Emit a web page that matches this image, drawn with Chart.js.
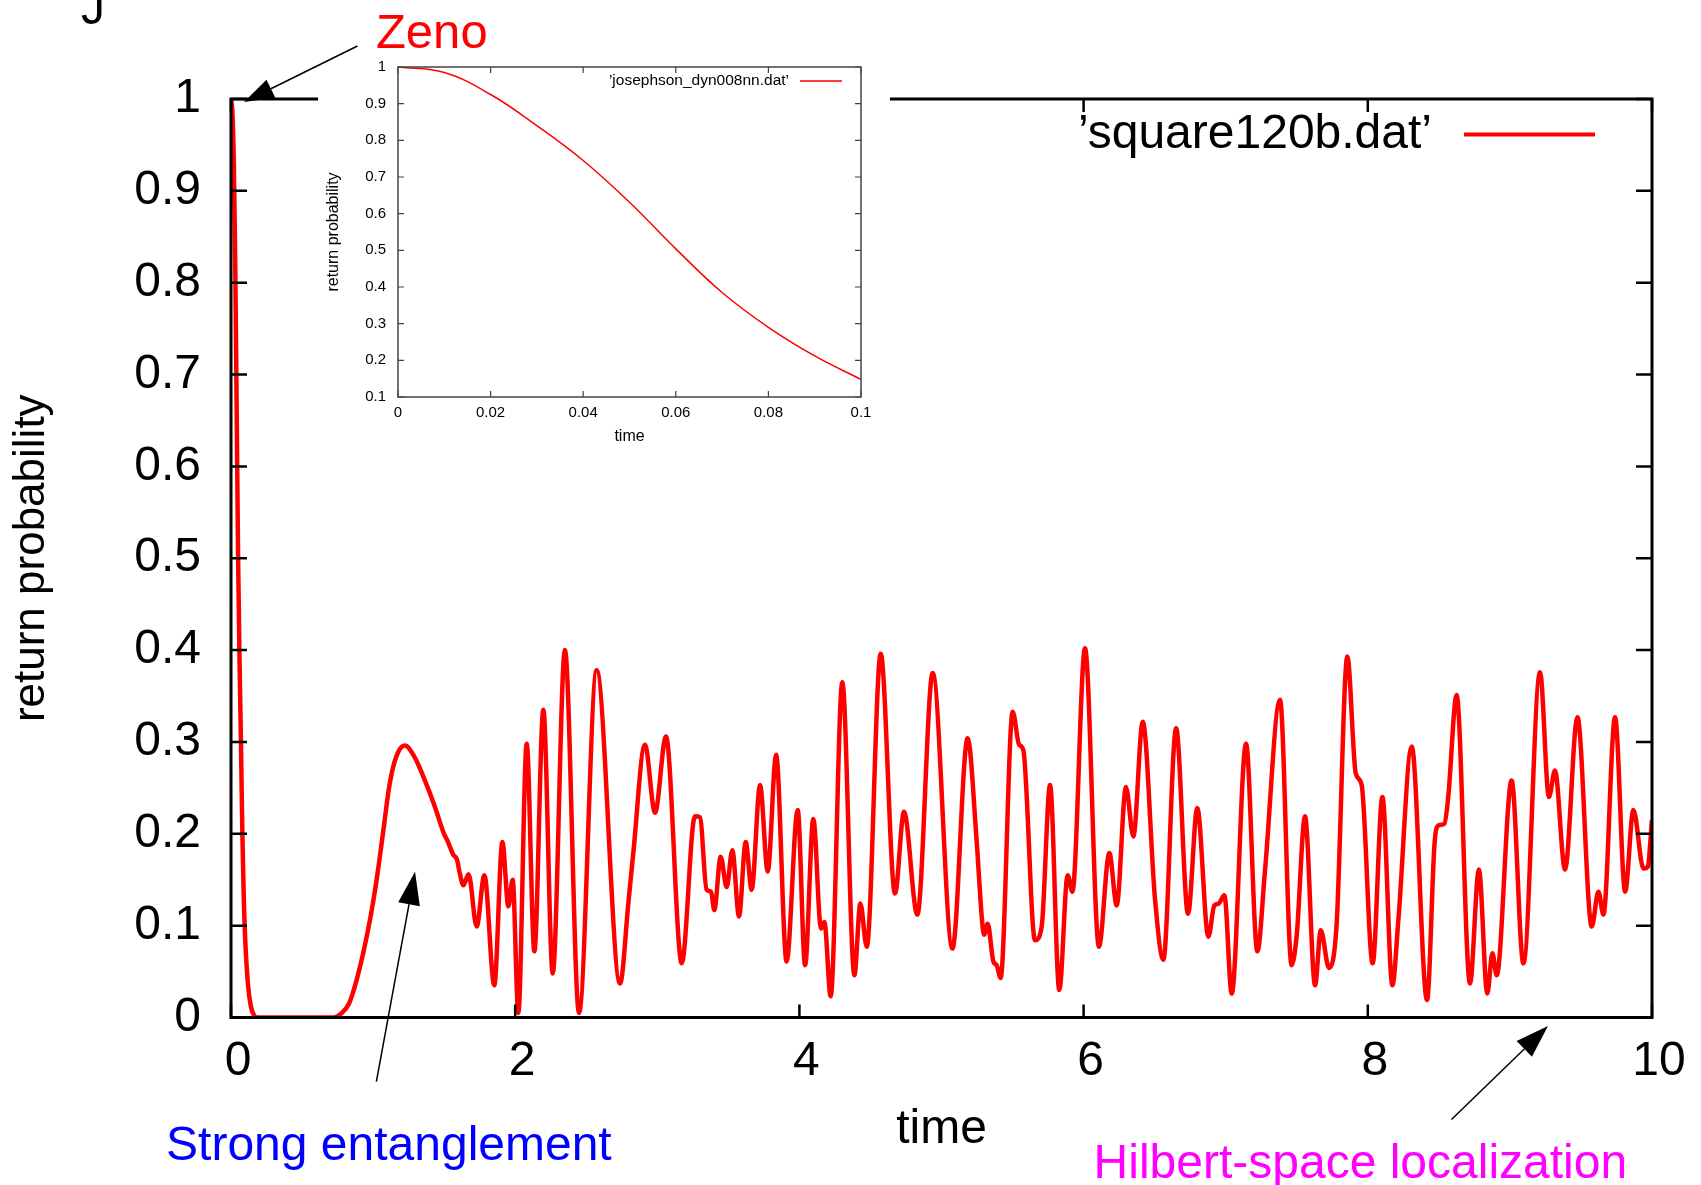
<!DOCTYPE html>
<html>
<head>
<meta charset="utf-8">
<title>return probability</title>
<script src="https://cdn.jsdelivr.net/npm/chart.js@4/dist/chart.umd.min.js"></script>
<style>
  body { margin: 0; background: #fff; }
  #wrap { position: relative; width: 1701px; height: 1185px; overflow: hidden; }
  #wrap canvas { position: absolute; }
  #main { left: 0; top: 0; }
  #inset { left: 318px; top: 0; background: #fff; }
  #notes { left: 0; top: 0; pointer-events: none; }
</style>
</head>
<body>
<div id="wrap">
  <canvas id="main" width="1701" height="1185"></canvas>
  <canvas id="inset" width="572" height="455"></canvas>
  <canvas id="notes" width="1701" height="1185"></canvas>
</div>
<script>
"use strict";

// main curve (time, return probability)
const mainTime = [
  0, 0.01, 0.02, 0.03, 0.04, 0.05, 0.06, 0.07, 0.08, 0.09, 0.1, 0.12, 0.14, 0.16, 0.18,
  0.72, 0.78, 0.83, 0.87, 0.93, 0.98, 1.02, 1.05, 1.08, 1.11, 1.14, 1.18, 1.224, 1.29, 1.365,
  1.436, 1.494, 1.53, 1.565, 1.59, 1.61, 1.635, 1.672, 1.729, 1.783, 1.853, 1.91, 1.952, 1.982,
  2.022, 2.081, 2.135, 2.198, 2.264, 2.35, 2.449, 2.573, 2.738, 2.796, 2.831, 2.913, 2.984,
  3.061, 3.172, 3.265, 3.3, 3.347, 3.378, 3.401, 3.446, 3.488, 3.528, 3.575, 3.622, 3.664,
  3.723, 3.777, 3.836, 3.91, 3.988, 4.04, 4.098, 4.152, 4.176, 4.22, 4.302, 4.387, 4.429,
  4.474, 4.572, 4.673, 4.736, 4.83, 4.938, 5.077, 5.184, 5.247, 5.283, 5.299, 5.325, 5.365,
  5.388, 5.416, 5.501, 5.546, 5.576, 5.658, 5.705, 5.764, 5.829, 5.888, 5.921, 6.01, 6.108,
  6.181, 6.233, 6.298, 6.35, 6.416, 6.503, 6.561, 6.651, 6.735, 6.8, 6.878, 6.92, 6.95, 6.991,
  7.042, 7.143, 7.223, 7.277, 7.382, 7.464, 7.5, 7.558, 7.629, 7.669, 7.727, 7.78, 7.856,
  7.915, 7.957, 8.034, 8.103, 8.173, 8.215, 8.309, 8.417, 8.47, 8.496, 8.539, 8.566, 8.625,
  8.719, 8.782, 8.841, 8.877, 8.907, 9.012, 9.095, 9.212, 9.275, 9.317, 9.388, 9.475, 9.576,
  9.623, 9.658, 9.74, 9.811, 9.869, 9.94, 9.97, 10
];
const mainProb = [
  1.0, 0.985, 0.93, 0.82, 0.66, 0.5, 0.39, 0.3, 0.2, 0.13, 0.085, 0.035, 0.012, 0.003, 0,
  0, 0.005, 0.015, 0.033, 0.07, 0.108, 0.145, 0.178, 0.213, 0.248, 0.272, 0.29, 0.296, 0.284, 0.258,
  0.229, 0.202, 0.19, 0.177, 0.172, 0.157, 0.144, 0.156, 0.099, 0.155, 0.035, 0.191, 0.121, 0.15,
  0.005, 0.298, 0.072, 0.335, 0.048, 0.4, 0.005, 0.378, 0.037, 0.124, 0.179, 0.297, 0.223,
  0.306, 0.059, 0.219, 0.218, 0.139, 0.137, 0.117, 0.175, 0.142, 0.182, 0.11, 0.191, 0.139,
  0.253, 0.159, 0.286, 0.061, 0.226, 0.057, 0.216, 0.097, 0.104, 0.023, 0.365, 0.046, 0.124,
  0.077, 0.396, 0.135, 0.224, 0.112, 0.375, 0.075, 0.304, 0.193, 0.11, 0.09, 0.102, 0.061,
  0.057, 0.043, 0.333, 0.297, 0.291, 0.084, 0.099, 0.253, 0.03, 0.155, 0.137, 0.402, 0.077,
  0.179, 0.122, 0.251, 0.197, 0.322, 0.128, 0.063, 0.315, 0.113, 0.228, 0.088, 0.122, 0.124, 0.133,
  0.026, 0.298, 0.072, 0.161, 0.346, 0.057, 0.09, 0.219, 0.035, 0.095, 0.054, 0.1, 0.393,
  0.266, 0.253, 0.059, 0.24, 0.035, 0.106, 0.295, 0.019, 0.19, 0.209, 0.211, 0.24, 0.351,
  0.037, 0.161, 0.026, 0.07, 0.046, 0.258, 0.059, 0.376, 0.24, 0.269, 0.161, 0.327, 0.099,
  0.137, 0.112, 0.327, 0.137, 0.226, 0.162, 0.164, 0.215
];
const mainLabel = "\u2019square120b.dat\u2019";
const mainXTicks = [0, 2, 4, 6, 8, 10];
const mainXTickLabels = ["0", "2", "4", "6", "8", "10"];
const mainYTicks = [0, 0.1, 0.2, 0.3, 0.4, 0.5, 0.6, 0.7, 0.8, 0.9, 1];
const mainYTickLabels = ["0", "0.1", "0.2", "0.3", "0.4", "0.5", "0.6", "0.7", "0.8", "0.9", "1"];

// inset curve
const insetTime = [0, 0.01, 0.02, 0.03, 0.04, 0.05, 0.06, 0.07, 0.08, 0.09, 0.1];
const insetProb = [1.0, 0.985, 0.925, 0.84, 0.745, 0.631, 0.504, 0.385, 0.29, 0.212, 0.148];
const insetLabel = "\u2019josephson_dyn008nn.dat\u2019";
const insetXTicks = [0, 0.02, 0.04, 0.06, 0.08, 0.1];
const insetXTickLabels = ["0", "0.02", "0.04", "0.06", "0.08", "0.1"];
const insetYTicks = [0.1, 0.2, 0.3, 0.4, 0.5, 0.6, 0.7, 0.8, 0.9, 1];
const insetYTickLabels = ["0.1", "0.2", "0.3", "0.4", "0.5", "0.6", "0.7", "0.8", "0.9", "1"];

const FONT = "'Liberation Sans', Arial, Helvetica, sans-serif";
Chart.defaults.font.family = FONT;
Chart.defaults.color = '#000';

// gnuplot style box with inward ticks on every side
function gnuplotFrame(id, st) {
  return {
    id: id,
    afterDatasetsDraw(chart) {
      const { ctx, chartArea: a, scales } = chart;
      ctx.save();
      ctx.strokeStyle = st.color;
      ctx.lineWidth = st.tickWidth;
      ctx.beginPath();
      scales.x.ticks.forEach(tk => {
        const px = scales.x.getPixelForValue(tk.value);
        ctx.moveTo(px, a.bottom); ctx.lineTo(px, a.bottom - st.tickX);
        ctx.moveTo(px, a.top); ctx.lineTo(px, a.top + st.tickX);
      });
      scales.y.ticks.forEach(tk => {
        const py = scales.y.getPixelForValue(tk.value);
        ctx.moveTo(a.left, py); ctx.lineTo(a.left + st.tickY, py);
        ctx.moveTo(a.right, py); ctx.lineTo(a.right - st.tickY, py);
      });
      ctx.stroke();
      ctx.lineWidth = st.frameWidth;
      ctx.strokeRect(a.left, a.top, a.right - a.left, a.bottom - a.top);
      ctx.restore();
    }
  };
}

// key: title first, line sample on its right
function keyEntry(id, k) {
  return {
    id: id,
    afterDraw(chart) {
      const ds = chart.data.datasets[0];
      const a = chart.chartArea;
      const ctx = chart.ctx;
      const y = a.top + k.dy;
      ctx.save();
      ctx.font = k.size + 'px ' + FONT;
      ctx.fillStyle = '#000';
      ctx.textAlign = 'right';
      ctx.textBaseline = 'middle';
      ctx.fillText(ds.label, a.right - k.textRight, y);
      ctx.strokeStyle = ds.borderColor;
      ctx.lineWidth = k.lineWidth;
      ctx.beginPath();
      ctx.moveTo(a.right - k.lineFrom, y);
      ctx.lineTo(a.right - k.lineTo, y);
      ctx.stroke();
      ctx.restore();
    }
  };
}

function axis(o) {
  return {
    type: 'linear',
    min: o.min,
    max: o.max,
    afterFit: o.fit,
    afterBuildTicks: s => { s.ticks = o.ticks.map(v => ({ value: v })); },
    ticks: {
      callback: (v, i) => o.labels[i],
      font: { size: o.size },
      padding: o.pad,
      labelOffset: o.labelOffset || 0,
      autoSkip: false,
      maxRotation: 0
    },
    grid: { display: false, drawTicks: false, tickLength: 0 },
    border: { display: false },
    title: { display: true, text: o.title, font: { size: o.titleSize }, padding: o.titlePad }
  };
}

const mainChart = new Chart(document.getElementById('main'), {
  type: 'line',
  data: {
    datasets: [{
      label: mainLabel,
      data: mainTime.map((t, i) => ({ x: t, y: mainProb[i] })),
      borderColor: '#ff0000',
      borderWidth: 4.5,
      pointRadius: 0,
      cubicInterpolationMode: 'monotone',
      fill: false
    }]
  },
  options: {
    responsive: false,
    animation: false,
    devicePixelRatio: 1,
    layout: { padding: { left: 0, right: 49, top: 99, bottom: 0 } },
    plugins: { legend: { display: false }, tooltip: { enabled: false } },
    scales: {
      x: axis({ min: 0, max: 10, ticks: mainXTicks, labels: mainXTickLabels, size: 48, pad: 15, labelOffset: 7,
        fit: s => { s.height = 167.5; }, title: 'time', titleSize: 48, titlePad: { top: 0, bottom: 26 } }),
      y: axis({ min: 0, max: 1, ticks: mainYTicks, labels: mainYTickLabels, size: 48, pad: 30,
        fit: s => { s.width = 231; }, title: 'return probability', titleSize: 44, titlePad: { top: 5, bottom: 0 } })
    }
  },
  plugins: [
    gnuplotFrame('mainFrame', { color: '#000', tickWidth: 2.5, frameWidth: 3, tickX: 13, tickY: 16 }),
    keyEntry('mainKey', { size: 48, dy: 35.5, textRight: 220, lineFrom: 188, lineTo: 57, lineWidth: 4 })
  ]
});

const insetChart = new Chart(document.getElementById('inset'), {
  type: 'line',
  data: {
    datasets: [{
      label: insetLabel,
      data: insetTime.map((t, i) => ({ x: t, y: insetProb[i] })),
      borderColor: '#ff0000',
      borderWidth: 1.5,
      pointRadius: 0,
      tension: 0.4,
      fill: false
    }]
  },
  options: {
    responsive: false,
    animation: false,
    devicePixelRatio: 1,
    layout: { padding: { left: 0, right: 29, top: 67, bottom: 0 } },
    plugins: { legend: { display: false }, tooltip: { enabled: false } },
    scales: {
      x: axis({ min: 0, max: 0.1, ticks: insetXTicks, labels: insetXTickLabels, size: 15, pad: 7,
        fit: s => { s.height = 58; }, title: 'time', titleSize: 16, titlePad: { top: 0, bottom: 9 } }),
      y: axis({ min: 0.1, max: 1, ticks: insetYTicks, labels: insetYTickLabels, size: 15, pad: 12,
        fit: s => { s.width = 80; }, title: 'return probability', titleSize: 16, titlePad: { top: 6, bottom: 0 } })
    }
  },
  plugins: [
    gnuplotFrame('insetFrame', { color: '#444', tickWidth: 1.2, frameWidth: 1.5, tickX: 6, tickY: 6 }),
    keyEntry('insetKey', { size: 15.5, dy: 14, textRight: 72, lineFrom: 61, lineTo: 19, lineWidth: 1.5 })
  ]
});

// annotations placed in the main chart's data space
const notes = [
  { text: 'Zeno', t: 1.02, p: 1.0555, color: '#ff0000', size: 49 },
  { text: 'Strong entanglement', t: -0.457, p: -0.1546, color: '#0000ff', size: 48 },
  { text: 'Hilbert-space localization', t: 6.07, p: -0.1746, color: '#ff00ff', size: 48 },
  { text: 'J', t: -1.056, p: 1.0814, color: '#000', size: 48 }
];
const arrows = [
  { from: [0.89, 1.0577], to: [0.0915, 0.9967], head: 30, half: 10 },
  { from: [1.023, -0.0698], to: [1.295, 0.1587], head: 33, half: 11 },
  { from: [8.589, -0.111], to: [9.268, -0.00925], head: 33, half: 11 }
];

function drawNotes() {
  const ctx = document.getElementById('notes').getContext('2d');
  const sx = mainChart.scales.x, sy = mainChart.scales.y;
  const X = t => sx.getPixelForValue(t);
  const Y = p => sy.getPixelForValue(p);

  notes.forEach(n => {
    ctx.font = n.size + 'px ' + FONT;
    ctx.fillStyle = n.color;
    ctx.textAlign = 'left';
    ctx.textBaseline = 'alphabetic';
    ctx.fillText(n.text, X(n.t), Y(n.p));
  });

  ctx.strokeStyle = '#000';
  ctx.fillStyle = '#000';
  ctx.lineWidth = 1.5;
  arrows.forEach(ar => {
    const x0 = X(ar.from[0]), y0 = Y(ar.from[1]);
    const x1 = X(ar.to[0]), y1 = Y(ar.to[1]);
    const len = Math.hypot(x1 - x0, y1 - y0);
    const ux = (x1 - x0) / len, uy = (y1 - y0) / len;
    const bx = x1 - ux * ar.head, by = y1 - uy * ar.head;
    ctx.beginPath();
    ctx.moveTo(x0, y0);
    ctx.lineTo(bx, by);
    ctx.stroke();
    ctx.beginPath();
    ctx.moveTo(x1, y1);
    ctx.lineTo(bx - uy * ar.half, by + ux * ar.half);
    ctx.lineTo(bx + uy * ar.half, by - ux * ar.half);
    ctx.closePath();
    ctx.fill();
  });
}
drawNotes();
</script>
</body>
</html>
